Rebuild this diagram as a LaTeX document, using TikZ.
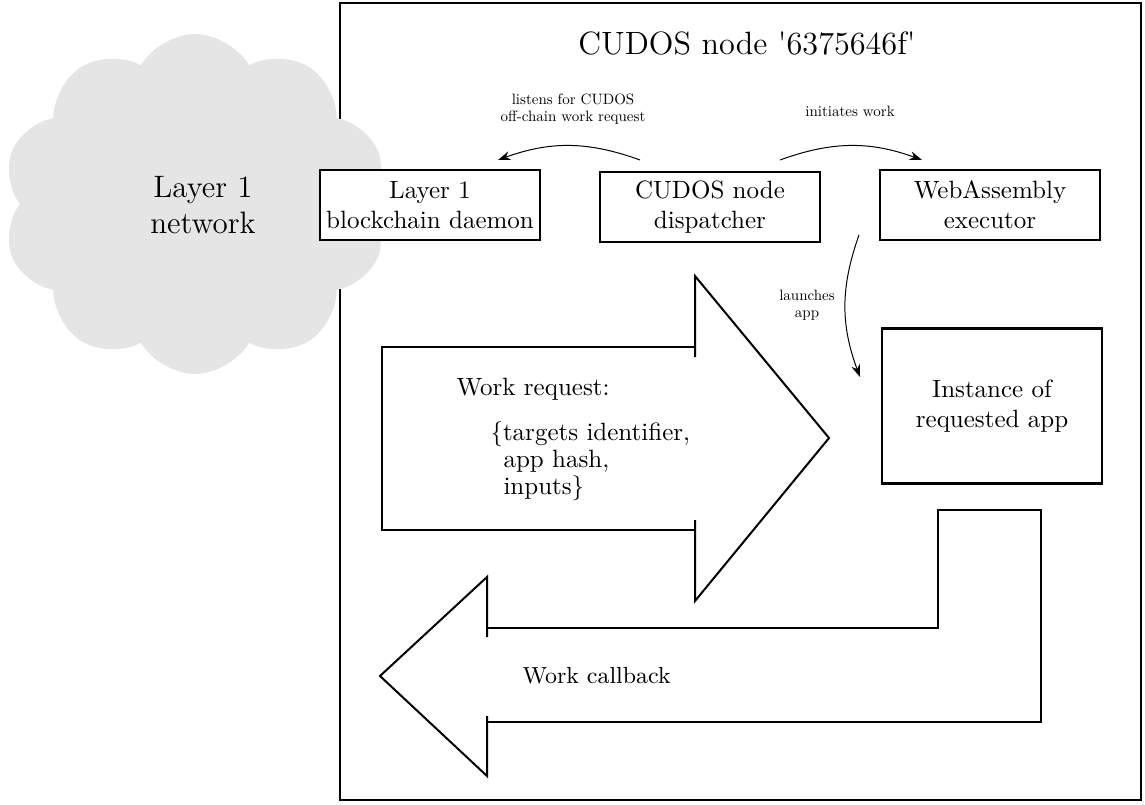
\documentclass[tikz,border=0pt]{standalone}
\usepackage{fontspec}
\usetikzlibrary{shapes.symbols,arrows.meta}
\begin{document}
\begin{tikzpicture}[x=0.4pt,y=-0.4pt,
  box/.style={draw, line width=1pt, fill=white, minimum width=88pt, minimum height=28pt,
    align=center, font=\fontsize{10}{12}\selectfont, inner sep=0pt},
  lbl/.style={font=\fontsize{10}{11.4}\selectfont, scale=0.6, align=center, inner sep=0pt},
  txt/.style={font=\fontsize{10}{12}\selectfont, inner sep=0pt},
  flow/.style={-{Stealth[length=5pt,width=3.6pt]}, line width=0.4pt},
  big/.style={line width=0.8pt, line join=miter}]
\useasboundingbox (0,0) rectangle (1145,805);
% outer frame
\draw[line width=0.8pt] (340,3) rectangle (1141,800);
% cloud
\node[cloud, cloud puffs=10, cloud puff arc=120, aspect=1.12, fill=gray!20, draw=none,
  minimum width=154pt, minimum height=136pt, inner sep=0pt, shape border rotate=90] (cloud) at (195,204) {};
\node[font=\fontsize{12.4}{14.6}\selectfont, align=center, inner sep=0pt] (cloudtxt) at (203,205) {Layer 1\\network};
% title
\node[font=\fontsize{12.9}{15.5}\selectfont, inner sep=0pt] (title) at (747,43) {CUDOS node \textquotesingle 6375646f\textquotesingle};
% boxes
\node[box] (l1d) at (430,205) {Layer 1\\blockchain daemon};
\node[box] (disp) at (710,207) {CUDOS node\\dispatcher};
\node[box] (wasm) at (990,205) {WebAssembly\\executor};
\node[box, minimum height=62pt] (inst) at (992,406) {Instance of\\requested app};
% curved connectors
\coordinate (a1s) at (640,160);
\coordinate (a1e) at (498,160);
\coordinate (a2s) at (780,160);
\coordinate (a2e) at (922,160);
\coordinate (a3s) at (859,235);
\coordinate (a3e) at (860,377);
\draw[flow] (a1s) to[bend right=20] (a1e);
\draw[flow] (a2s) to[bend left=20] (a2e);
\draw[flow] (a3s) to[bend right=20] (a3e);
\node[lbl] (lab1) at (573,109) {listens for CUDOS\\off-chain work request};
\node[lbl] (lab2) at (850,111) {initiates work};
\node[lbl] (lab3) at (807,305) {launches\\app};
% work request arrow
\draw[big] (695,347) -- (382,347) -- (382,530) -- (695,530);
\draw[big] (695,357) -- (695,276) -- (829,438) -- (695,601) -- (695,520);
\node[txt, anchor=base west] (wr) at (456,395) {Work request:};
\node[txt, anchor=base west] (wr1) at (490,440) {\{targets identifier,};
\node[txt, anchor=base west] (wr2) at (503,467) {app hash,};
\node[txt, anchor=base west] (wr3) at (503,494) {inputs\}};
% work callback arrow
\draw[big] (487,637) -- (487,577) -- (380,676) -- (487,776) -- (487,716);
\draw[big] (487,628) -- (938,628) -- (938,510) -- (1041,510) -- (1041,722) -- (487,722);
\node[txt, font=\fontsize{9.3}{11}\selectfont, anchor=base west] (wc) at (522,683) {Work callback};
\end{tikzpicture}
\end{document}
